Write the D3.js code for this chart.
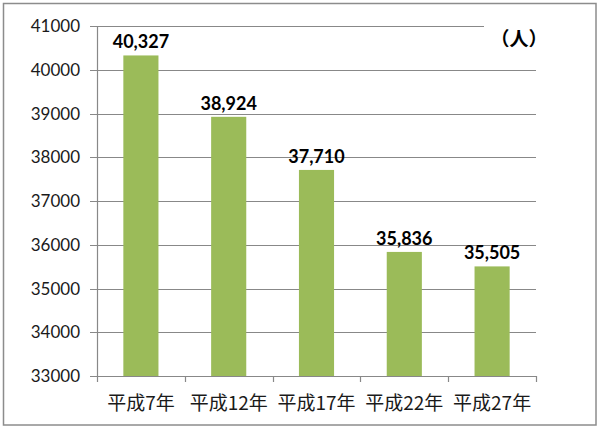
<!DOCTYPE html>
<html>
<head>
<meta charset="utf-8">
<script src="https://cdn.jsdelivr.net/npm/d3@7/dist/d3.min.js"></script>
<style>
html,body{margin:0;padding:0;background:#fff;}
svg{display:block;}
</style>
</head>
<body>
<svg id="chart" width="600" height="428"></svg>
<script>
const categories = ["平成7年", "平成12年", "平成17年", "平成22年", "平成27年"];
const values = [40327, 38924, 37710, 35836, 35505];
const yTicks = [33000, 34000, 35000, 36000, 37000, 38000, 39000, 40000, 41000];
const unitLabel = "（人）";

(function () {
const svg = d3.select("#chart");
const pLeft = 97, pRight = 536, pTop = 26, pBottom = 376;

svg.append("rect").attr("x", 3.5).attr("y", 3.5).attr("width", 592.5).attr("height", 421.5)
  .attr("fill", "#fff").attr("stroke", "#8c8c8c").attr("stroke-width", 1.5);

const xb = d3.scaleBand().domain(categories).range([pLeft, pRight]);
const y = d3.scaleLinear().domain([33000, 41000]).range([pBottom, pTop]);

// gridlines
svg.append("g").selectAll("line").data(yTicks).join("line")
  .attr("x1", pLeft - 7).attr("x2", pRight)
  .attr("y1", d => Math.round(y(d)) + 0.5).attr("y2", d => Math.round(y(d)) + 0.5)
  .attr("stroke", "#888").attr("stroke-width", 1.2);

// y tick labels
svg.append("g").selectAll("text").data(yTicks).join("text")
  .attr("x", 80).attr("y", d => y(d) + 6)
  .attr("text-anchor", "end")
  .attr("font-family", "Lato, 'Open Sans', sans-serif")
  .attr("font-size", 17).attr("fill", "#1a1a1a")
  .text(d => d);

// bars
const bw = xb.bandwidth() / 2.5;
svg.append("g").selectAll("rect").data(values).join("rect")
  .attr("x", (d, i) => xb(categories[i]) + (xb.bandwidth() - bw) / 2)
  .attr("width", bw)
  .attr("y", d => y(d))
  .attr("height", d => pBottom - y(d))
  .attr("fill", "#9bbb59");

// axes lines
svg.append("line").attr("x1", pLeft + 0.5).attr("x2", pLeft + 0.5).attr("y1", pTop).attr("y2", pBottom)
  .attr("stroke", "#888").attr("stroke-width", 1.2);
svg.append("line").attr("x1", pLeft).attr("x2", pRight).attr("y1", Math.round(pBottom) + 0.5).attr("y2", Math.round(pBottom) + 0.5)
  .attr("stroke", "#888").attr("stroke-width", 1.2);
const xTickPos = categories.map(c => xb(c)).concat([pRight]);
svg.append("g").selectAll("line").data(xTickPos).join("line")
  .attr("x1", d => Math.round(d) + 0.5).attr("x2", d => Math.round(d) + 0.5)
  .attr("y1", pBottom).attr("y2", pBottom + 6)
  .attr("stroke", "#888").attr("stroke-width", 1.2);

// category labels
svg.append("g").selectAll("text").data(categories).join("text")
  .attr("x", d => xb(d) + xb.bandwidth() / 2).attr("y", 410)
  .attr("text-anchor", "middle")
  .attr("font-family", "'Noto Sans CJK JP', sans-serif")
  .attr("font-size", 19).attr("fill", "#1a1a1a")
  .text(d => d);

// value labels
svg.append("g").selectAll("text").data(values).join("text")
  .attr("x", (d, i) => xb(categories[i]) + xb.bandwidth() / 2)
  .attr("y", d => y(d) - 7)
  .attr("text-anchor", "middle")
  .attr("font-family", "Lato, 'Open Sans', sans-serif")
  .attr("font-weight", "bold")
  .attr("font-size", 18).attr("fill", "#000")
  .text(d => d3.format(",")(d));

// unit label with white background
svg.append("rect").attr("x", 484).attr("y", 20).attr("width", 56).attr("height", 34).attr("fill", "#fff");
svg.append("text").attr("x", 519).attr("y", 46)
  .attr("text-anchor", "middle")
  .attr("font-family", "'Noto Sans CJK JP', sans-serif")
  .attr("font-weight", "bold")
  .attr("font-size", 19).attr("fill", "#000")
  .text(unitLabel);
})();
</script>
</body>
</html>
